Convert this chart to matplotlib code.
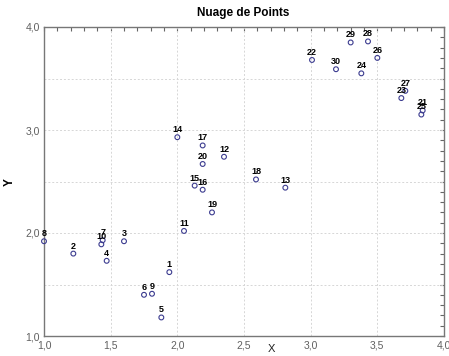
import matplotlib
matplotlib.use("Agg")
import matplotlib.pyplot as plt
from matplotlib.ticker import MultipleLocator, FixedLocator

labels = [str(i) for i in range(1, 31)]
x_vals = [1.94, 1.22, 1.60, 1.47, 1.88, 1.75, 1.44, 1.00, 1.81, 1.43,
          2.05, 2.35, 2.81, 2.00, 2.13, 2.19, 2.19, 2.59, 2.26, 2.19,
          3.84, 3.01, 3.68, 3.38, 3.83, 3.50, 3.71, 3.43, 3.30, 3.19]
y_vals = [1.62, 1.80, 1.92, 1.73, 1.18, 1.40, 1.93, 1.92, 1.41, 1.89,
          2.02, 2.74, 2.44, 2.93, 2.46, 2.42, 2.85, 2.52, 2.20, 2.67,
          3.19, 3.68, 3.31, 3.55, 3.15, 3.70, 3.38, 3.86, 3.85, 3.59]
x_ticks = [1.0, 1.5, 2.0, 2.5, 3.0, 3.5, 4.0]
y_ticks = [1.0, 2.0, 3.0, 4.0]

fig = plt.figure(figsize=(4.49, 3.56), dpi=100)
ax = fig.add_axes([44/449, 1-336/356, 400/449, 309/356])

ax.scatter(x_vals, y_vals, s=12, facecolors='none', edgecolors='#3b3b8f',
           linewidths=0.8, zorder=3, clip_on=False)
lab_font = ['Liberation Sans Narrow', 'Liberation Sans', 'DejaVu Sans']
for lx, ly, t in zip(x_vals, y_vals, labels):
    ax.annotate(t, (lx, ly), xytext=(0, 2.2), textcoords='offset points',
                ha='center', va='bottom', fontsize=6.5, fontweight='bold',
                family=lab_font, color='black', zorder=4)

ax.set_xlim(1.0, 4.0)
ax.set_ylim(1.0, 4.0)
ax.xaxis.set_major_locator(FixedLocator(x_ticks))
ax.yaxis.set_major_locator(FixedLocator(y_ticks))
ax.set_xticklabels([f"{v:.1f}".replace('.', ',') for v in x_ticks])
ax.set_yticklabels([f"{v:.1f}".replace('.', ',') for v in y_ticks])
ax.tick_params(axis='both', which='both', length=0, labelsize=7.5,
               labelcolor='#606060', pad=3, labelfontfamily='Liberation Sans')

# grid lines
for gx in [1.5, 2.0, 2.5, 3.0, 3.5]:
    ax.axvline(gx, color='#d6d6d6', lw=0.7, ls=(0, (2, 2)), zorder=1)
for gy in [1.5, 2.0, 2.5, 3.0, 3.5]:
    ax.axhline(gy, color='#d6d6d6', lw=0.7, ls=(0, (2, 2)), zorder=1)

# inward minor ticks on top and right
sec_x = ax.secondary_xaxis('top')
sec_x.xaxis.set_major_locator(MultipleLocator(0.1))
sec_x.tick_params(direction='in', length=3, color='#666666', labelsize=0, labeltop=False)
sec_x.spines['top'].set_visible(False)
sec_y = ax.secondary_yaxis('right')
sec_y.yaxis.set_major_locator(MultipleLocator(0.1))
sec_y.tick_params(direction='in', length=3, color='#666666', labelsize=0, labelright=False)
sec_y.spines['right'].set_visible(False)

for s in ax.spines.values():
    s.set_color('#777777')
    s.set_linewidth(1.0)

fig.text(243/449, 1-13/356, 'Nuage de Points', ha='center', va='center',
         fontsize=8.5, fontweight='bold', family='Liberation Sans')
fig.text(271/449, 1-349/356, 'X', ha='center', va='center', fontsize=8,
         family='Liberation Sans', color='#222222')
fig.text(10/449, 1-182/356, 'Y', ha='center', va='center', fontsize=8.5,
         fontweight='bold', rotation=90, family='Liberation Sans')

fig.savefig('out.png', dpi=100)
